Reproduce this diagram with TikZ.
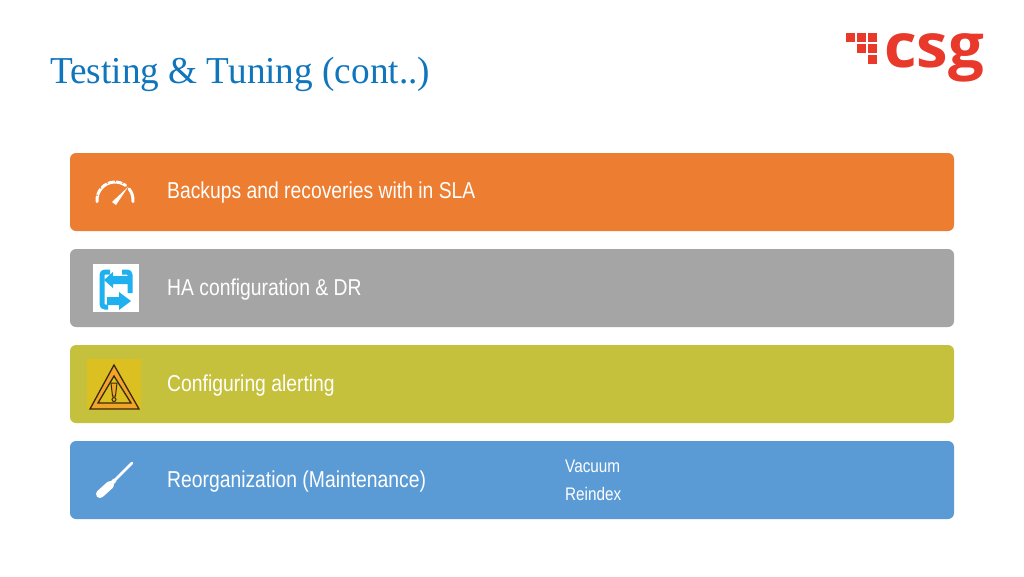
\documentclass[tikz,border=0pt]{standalone}
\usepackage{fontspec}
\setmainfont[FakeStretch=0.84]{Liberation Sans}
\newfontfamily\titlefont[FakeStretch=0.98]{Liberation Serif}
\newfontfamily\logofont[FakeStretch=1.04]{Open Sans}
\usetikzlibrary{positioning}
\definecolor{barorange}{HTML}{ED7D31}
\definecolor{bargrey}{HTML}{A5A5A5}
\definecolor{barolive}{HTML}{C6C13C}
\definecolor{barblue}{HTML}{5B9BD5}
\definecolor{titleblue}{HTML}{0F75BC}
\definecolor{logored}{HTML}{E8392B}
\definecolor{swapblue}{HTML}{1FB0F0}
\definecolor{warnbox}{HTML}{DCBF20}
\definecolor{warnband}{HTML}{F0A52A}
\definecolor{warnline}{HTML}{3A2A0C}
\begin{document}
\begin{tikzpicture}[x=1pt,y=-1pt,
       bar/.style={rectangle,rounded corners=6pt,inner sep=0pt,minimum width=884pt,minimum height=78pt,fill=#1},
       lab/.style={text=white,inner sep=0pt,anchor=base west,font=\fontsize{23}{28}\selectfont},
       sublab/.style={text=white,inner sep=0pt,anchor=base west,font=\fontsize{18.2}{24}\selectfont},
       pix/.style={fill=logored,inner sep=0pt,minimum size=9pt},
       icon/.style={draw=white,line width=3pt,line cap=round}]
   \useasboundingbox (0,0) rectangle (1024,576);
   \fill[white] (0,0) rectangle (1024,576);
   \node [text=titleblue,inner sep=0pt,anchor=base west,font=\titlefont\fontsize{38}{40}\selectfont] (title) at (50,83) {Testing \& Tuning (cont..)};
   % logo
   \node [pix] (p1) at (850.5,37.5) {};
   \node [pix] (p2) at (861.5,37.5) {};
   \node [pix] (p3) at (872.5,37.5) {};
   \node [pix] (p4) at (861.5,48.5) {};
   \node [pix] (p5) at (872.5,48.5) {};
   \node [pix] (p6) at (872.5,59.5) {};
   \node [text=logored,inner sep=0pt,anchor=base west,font=\logofont\bfseries\fontsize{61}{61}\selectfont] (logo) at (884,67.5) {csg};
   % bars
   \node [bar=barorange] (b1) at (512,192) {};
   \node [bar=bargrey] (b2) at (512,288) {};
   \node [bar=barolive] (b3) at (512,384) {};
   \node [bar=barblue] (b4) at (512,480) {};
   \node [lab] (t1) at (167,198) {Backups and recoveries with in SLA};
   \node [lab] (t2) at (167,295) {HA configuration \& DR};
   \node [lab] (t3) at (167,391) {Configuring alerting};
   \node [lab] (t4) at (167,487) {Reorganization (Maintenance)};
   \node [sublab] (s1) at (565,472) {Vacuum};
   \node [sublab] (s2) at (565,500) {Reindex};
   % gauge
   \coordinate (gc) at (115,200);
   \draw [icon] ([shift={(185:18pt)}]gc) arc (185:54:18pt);
   \draw [icon] ([shift={(38:18pt)}]gc) arc (38:-5:18pt);
   \foreach \a in {165,140,115,90,65}
      \draw [barorange,line width=1pt] ([shift={(\a:18pt)}]gc) -- ([shift={(\a:20.5pt)}]gc);
   \fill [white] (112,202) -- (128,187) -- (116,205) -- cycle;
   % swap
   \fill [white] (93,264) rectangle (139,312);
   \draw [draw=swapblue,line width=5pt,rounded corners=3pt] (110,272) -- (102,272) -- (102,307) -- (108,307);
   \draw [draw=swapblue,line width=5pt,rounded corners=3pt] (122,272) -- (130,272) -- (130,293);
   \fill [swapblue] (104,280) -- (113,272) -- (113,276) -- (128,276) -- (128,284) -- (113,284) -- (113,288) -- cycle;
   \fill [swapblue] (131,301) -- (119,292) -- (119,297) -- (107,297) -- (107,305) -- (119,305) -- (119,310) -- cycle;
   % warning
   \fill [warnbox] (87,359) rectangle (141,410);
   \draw [warnline,fill=warnband,line width=1.3pt,line join=miter] (114,365) -- (139,409) -- (90,409) -- cycle;
   \draw [warnline,fill=warnbox,line width=1.3pt] (114,376) -- (131,403) -- (98,403) -- cycle;
   \draw [warnline,fill=warnband,line width=1pt] (111,383) -- (117,383) -- (115.5,396) -- (112.5,396) -- cycle;
   \draw [warnline,fill=warnband,line width=1pt] (114,399.5) circle (2pt);
   % screwdriver
   \draw [white,line width=2.5pt,line cap=round] (111,484) -- (132,463);
   \draw [white,line width=4pt] (108,487) -- (115,480);
   \draw [white,line width=8pt,line cap=round] (100,494) -- (110,485);
\end{tikzpicture}
\end{document}
